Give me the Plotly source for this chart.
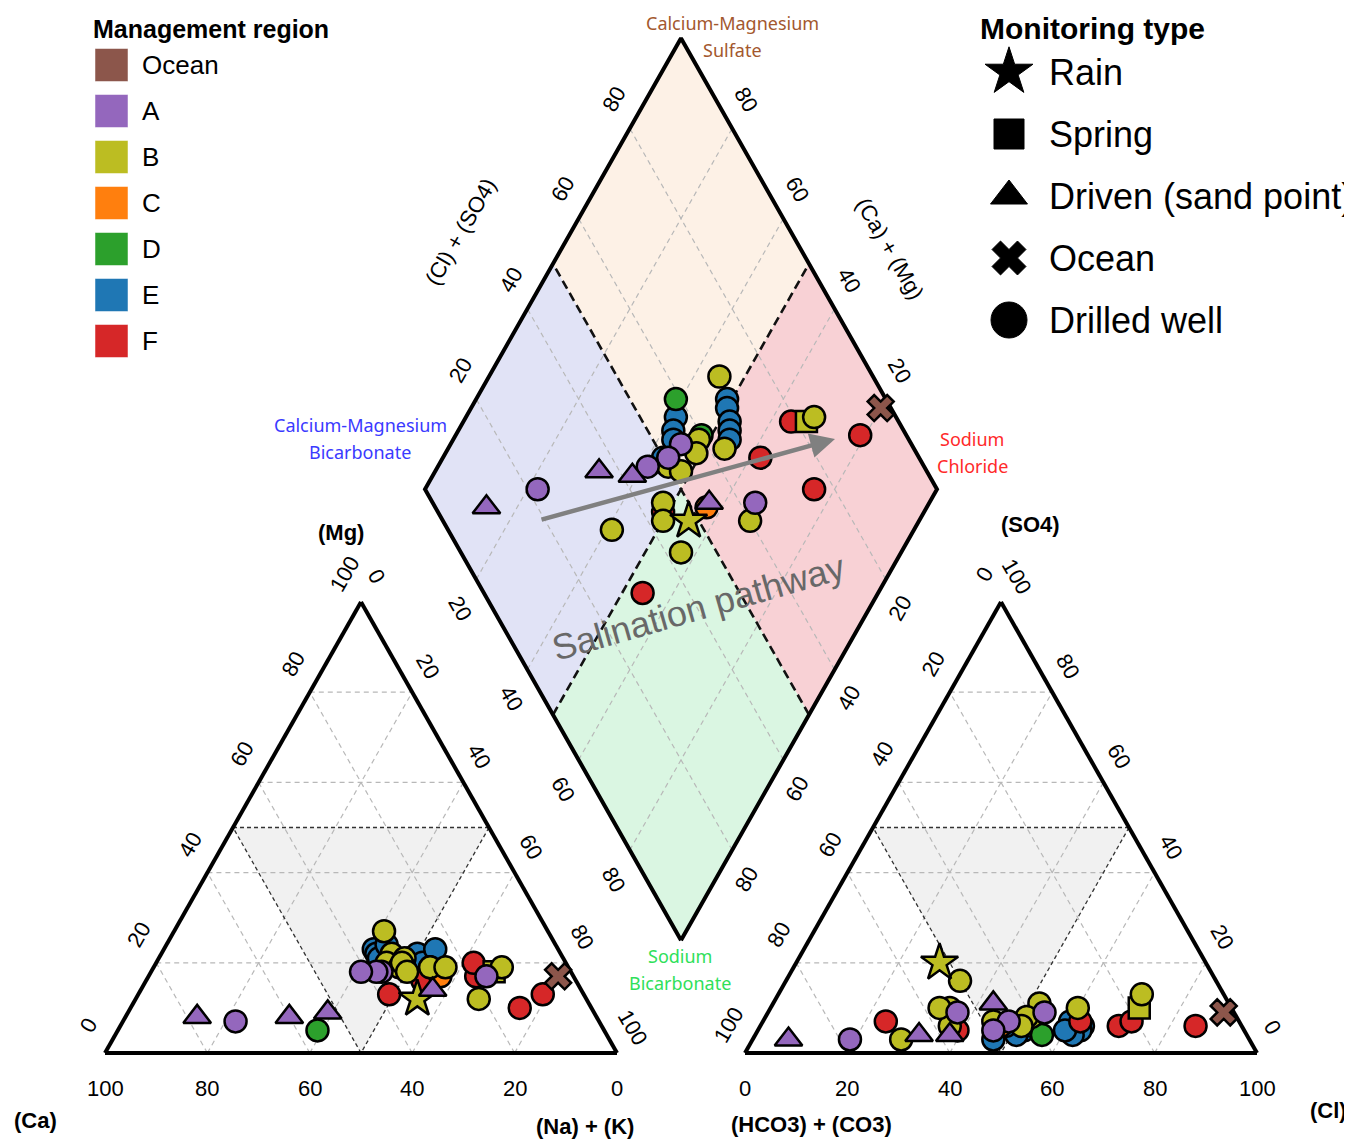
import plotly.graph_objects as go

# ---------------- data (percent of meq) ----------------
region = ["Ocean", "F", "F", "F", "B", "B", "F", "A", "B", "B",
          "E", "E", "E", "E", "E", "B", "D", "E", "E", "E",
          "E", "D", "B", "B", "A", "A", "A", "B", "B", "A",
          "A", "A", "A", "B", "F", "B", "B", "C", "A", "B",
          "B", "F"]
mtype = ["Ocean", "Drilled well", "Drilled well", "Drilled well", "Spring", "Drilled well", "Drilled well", "Drilled well", "Drilled well", "Drilled well",
         "Drilled well", "Drilled well", "Drilled well", "Drilled well", "Drilled well", "Drilled well", "Drilled well", "Drilled well", "Drilled well", "Drilled well",
         "Drilled well", "Drilled well", "Drilled well", "Drilled well", "Drilled well", "Drilled well", "Drilled well", "Drilled well", "Drilled well", "Driven (sand point)",
         "Driven (sand point)", "Driven (sand point)", "Drilled well", "Drilled well", "Drilled well", "Drilled well", "Rain", "Drilled well", "Driven (sand point)", "Drilled well",
         "Drilled well", "Drilled well"]
# cations
ca = [3, 8, 14, 19, 15, 13, 18, 17, 21, 33,
      30, 28, 28, 24, 27, 27, 56, 36, 36, 36,
      33, 32, 31, 32, 37, 38, 41, 35, 33, 60,
      52, 78, 71, 32, 38, 32, 33, 26, 29, 32,
      24, 30]
mg = [17, 13, 10, 17, 18, 19, 20, 17, 12, 22,
      21, 22, 20, 23, 19, 19, 5, 23, 22, 21,
      24, 20, 21, 19, 18, 18, 18, 20, 19, 8,
      9, 8, 7, 20, 13, 18, 12, 17, 14, 27,
      19, 16]
na_k = [80, 79, 76, 64, 67, 68, 62, 66, 67, 45,
        49, 50, 52, 53, 54, 54, 39, 41, 42, 43,
        43, 48, 48, 49, 45, 44, 41, 45, 48, 32,
        39, 14, 22, 48, 49, 50, 55, 57, 57, 41,
        57, 54]
# anions
hco3 = [2, 9, 24, 21, 18, 16, 31, 37, 40, 30,
        31, 32, 33, 34, 35, 37, 41, 43, 45, 46,
        50, 40, 41, 43, 45, 49, 54, 50, 48, 64,
        58, 90, 78, 55, 56, 57, 52, 47, 46, 68,
        57, 69]
so4 = [9, 6, 6, 7, 10, 13, 7, 9, 8, 10,
       6, 5, 7, 4, 5, 11, 6, 5, 4, 6,
       3, 4, 8, 6, 7, 5, 9, 16, 7, 4,
       4, 3, 3, 10, 5, 6, 20, 6, 11, 3,
       10, 7]
cl = [89, 85, 70, 72, 72, 71, 62, 54, 52, 60,
      63, 63, 60, 62, 60, 52, 53, 52, 51, 48,
      47, 56, 51, 51, 48, 46, 37, 34, 45, 32,
      38, 7, 19, 35, 39, 37, 28, 47, 43, 29,
      33, 24]

region_names = ["Ocean", "A", "B", "C", "D", "E", "F"]
region_colors = ["#8c564b", "#9467bd", "#bcbd22", "#ff7f0e", "#2ca02c", "#1f77b4", "#d62728"]
type_names = ["Rain", "Spring", "Driven (sand point)", "Ocean", "Drilled well"]
type_symbols = ["star", "square", "triangle-up", "x", "circle"]
type_sizes = [28, 21, 24, 23, 22]
tick_vals = [0, 20, 40, 60, 80, 100]

# ---------------- geometry ----------------
PAGE_OFF = 8          # html body margin
W, HGT = 1352 - PAGE_OFF, 1143 - PAGE_OFF
PXU = 512.0
OX, OY = 105.0, 1053.0
H = 451.0 / 512.0


def from_px(px, py):
    return (px - OX) / PXU, (OY - py) / PXU


def to_px(x, y):
    return OX + PXU * x, OY - PXU * y


def cat_xy(nak, mgv):
    return nak / 100 + mgv / 200, mgv / 100 * H


def an_xy(clv, so4v):
    return 1.25 + clv / 100 + so4v / 200, so4v / 100 * H


def dia_xy(p, q):
    return 1.125 + 0.5 * (p - q), 0.25 * H + H * (p + q)


fig = go.Figure()


def poly(points, fill):
    xs = [p[0] for p in points] + [points[0][0]]
    ys = [p[1] for p in points] + [points[0][1]]
    fig.add_trace(go.Scatter(x=xs, y=ys, mode="lines", fill="toself", fillcolor=fill,
                             line=dict(color=fill, width=0),
                             hoverinfo="skip", showlegend=False))


def segs(segments, color, width, dash=None):
    xs, ys = [], []
    for a, b in segments:
        xs += [a[0], b[0], None]
        ys += [a[1], b[1], None]
    fig.add_trace(go.Scatter(x=xs, y=ys, mode="lines",
                             line=dict(color=color, width=width, dash=dash),
                             hoverinfo="skip", showlegend=False))


# diamond quadrant fills
poly([dia_xy(0, .5), dia_xy(0, 1), dia_xy(.5, 1), dia_xy(.5, .5)], "#e1e3f6")
poly([dia_xy(.5, .5), dia_xy(.5, 1), dia_xy(1, 1), dia_xy(1, .5)], "#fdf1e6")
poly([dia_xy(.5, 0), dia_xy(.5, .5), dia_xy(1, .5), dia_xy(1, 0)], "#f8d1d5")
poly([dia_xy(0, 0), dia_xy(0, .5), dia_xy(.5, .5), dia_xy(.5, 0)], "#daf6e2")

# inner shaded triangles
poly([cat_xy(0, 50), cat_xy(50, 50), cat_xy(50, 0)], "#f1f1f1")
poly([an_xy(0, 50), an_xy(50, 50), an_xy(50, 0)], "#f1f1f1")

# grid lines
grid = []
for v in [20, 40, 60, 80]:
    grid.append((cat_xy(0, v), cat_xy(100 - v, v)))
    grid.append((cat_xy(v, 0), cat_xy(v, 100 - v)))
    grid.append((cat_xy(100 - v, 0), cat_xy(0, 100 - v)))
    grid.append((an_xy(0, v), an_xy(100 - v, v)))
    grid.append((an_xy(v, 0), an_xy(v, 100 - v)))
    grid.append((an_xy(100 - v, 0), an_xy(0, 100 - v)))
    grid.append((dia_xy(v / 100, 0), dia_xy(v / 100, 1)))
    grid.append((dia_xy(0, v / 100), dia_xy(1, v / 100)))
segs(grid, "#b8b8b8", 1.2, "5px,4px")

# inner triangle dashed borders
inner = [(cat_xy(0, 50), cat_xy(50, 50)), (cat_xy(50, 50), cat_xy(50, 0)), (cat_xy(50, 0), cat_xy(0, 50)),
         (an_xy(0, 50), an_xy(50, 50)), (an_xy(50, 50), an_xy(50, 0)), (an_xy(50, 0), an_xy(0, 50))]
segs(inner, "#333333", 1.3, "4px,3px")

# diamond dividers
segs([(dia_xy(.5, 0), dia_xy(.5, 1)), (dia_xy(0, .5), dia_xy(1, .5))], "#111111", 2.6, "9px,5px")

# outlines
outl = [(cat_xy(0, 0), cat_xy(100, 0)), (cat_xy(100, 0), cat_xy(0, 100)), (cat_xy(0, 100), cat_xy(0, 0)),
        (an_xy(0, 0), an_xy(100, 0)), (an_xy(100, 0), an_xy(0, 100)), (an_xy(0, 100), an_xy(0, 0))]
segs(outl, "black", 4)
dv = [dia_xy(0, 0), dia_xy(1, 0), dia_xy(1, 1), dia_xy(0, 1), dia_xy(0, 0)]
fig.add_trace(go.Scatter(x=[p[0] for p in dv], y=[p[1] for p in dv],
                         mode="lines", line=dict(color="black", width=4), hoverinfo="skip", showlegend=False))

# ---------------- data points ----------------
draw_order = ["E", "D", "F", "C", "B", "A", "Ocean"]
idx = sorted(range(len(region)), key=lambda i: draw_order.index(region[i]))
cols = [region_colors[region_names.index(region[i])] for i in idx]
syms = [type_symbols[type_names.index(mtype[i])] for i in idx]
sizes = [type_sizes[type_names.index(mtype[i])] for i in idx]
mk = dict(color=cols, symbol=syms, size=sizes, opacity=1, line=dict(color="black", width=2.5))

cx, cy, ax_, ay_, dx, dy = [], [], [], [], [], []
for i in idx:
    tot_c = ca[i] + mg[i] + na_k[i]
    tot_a = hco3[i] + so4[i] + cl[i]
    n = 100 * na_k[i] / tot_c
    m = 100 * mg[i] / tot_c
    c = 100 * cl[i] / tot_a
    s = 100 * so4[i] / tot_a
    x, y = cat_xy(n, m); cx.append(x); cy.append(y)
    x, y = an_xy(c, s); ax_.append(x); ay_.append(y)
    x, y = dia_xy((c + s) / 100, 1 - n / 100); dx.append(x); dy.append(y)

for xs, ys in [(cx, cy), (ax_, ay_), (dx, dy)]:
    fig.add_trace(go.Scatter(x=xs, y=ys, mode="markers", marker=mk, showlegend=False,
                             hoverinfo="skip"))

# ---------------- annotations ----------------
ann = []
FONT = "Liberation Sans, Arial, sans-serif"
NARROW = "Liberation Sans Narrow, Arial Narrow, Liberation Sans, sans-serif"


def text_px(px, py, txt, size=22, color="black", angle=0, family=FONT, xanchor="center", bold=False):
    x, y = from_px(px, py)
    t = "<b>%s</b>" % txt if bold else txt
    ann.append(dict(x=x, y=y, xref="x", yref="y", text=t, showarrow=False, textangle=angle,
                    xanchor=xanchor, yanchor="middle", font=dict(size=size, color=color, family=family)))


def text_at(pt, off, txt, angle, size=22):
    px, py = to_px(*pt)
    text_px(px + off[0], py + off[1], txt, size=size, angle=angle)


for v in tick_vals:
    px, _ = to_px(*cat_xy(100 - v, 0))
    text_px(px, 1088, str(v), size=22, family=NARROW)
    text_at(cat_xy(0, v), (-17, -28), str(v), -60)
    text_at(cat_xy(v, 100 - v), (16, -26), str(v), 60)
    px, _ = to_px(*an_xy(v, 0))
    text_px(px, 1088, str(v), size=22, family=NARROW)
    text_at(an_xy(0, 100 - v), (-17, -28), str(v), -60)
    text_at(an_xy(100 - v, v), (16, -26), str(v), 60)
    if 0 < v < 100:
        text_at(dia_xy(v / 100, 1), (-16, -29), str(v), -60)
        text_at(dia_xy(1, v / 100), (14, -29), str(v), 60)
        text_at(dia_xy(0, 1 - v / 100), (-16, 29), str(v), 60)
        text_at(dia_xy(1 - v / 100, 0), (14, 29), str(v), -60)

text_px(341, 532, "(Mg)", 22, bold=True, family=NARROW)
text_px(35, 1120, "(Ca)", 22, bold=True, family=NARROW)
text_px(585, 1126, "(Na) + (K)", 22, bold=True, family=NARROW)
text_px(1030, 524, "(SO4)", 22, bold=True, family=NARROW)
text_px(811, 1124, "(HCO3) + (CO3)", 22, bold=True, family=NARROW)
text_px(1328, 1110, "(Cl)", 22, bold=True, family=NARROW)
text_px(460, 232, "(Cl) + (SO4)", 22, angle=-60)
text_px(890, 248, "(Ca) + (Mg)", 22, angle=60)

LAB = "Noto Sans, Open Sans, sans-serif"
for (xc, y1, l1, l2, colr) in [(732, 23, "Calcium-Magnesium", "Sulfate", "#a3582e"),
                               (360, 425, "Calcium-Magnesium", "Bicarbonate", "#3a3aff"),
                               (972, 439, "Sodium", "Chloride", "#ff2a2a"),
                               (680, 956, "Sodium", "Bicarbonate", "#2fe05a")]:
    text_px(xc, y1, l1, 18, color=colr, family=LAB)
    text_px(xc, y1 + 27, l2, 18, color=colr, family=LAB)

text_px(698, 607, "Salination pathway", 36, color="#686868", angle=-16)

# arrow
hx, hy = from_px(835, 439)
tx, ty = from_px(540, 520)
ann.append(dict(x=hx, y=hy, ax=tx, ay=ty, xref="x", yref="y", axref="x", ayref="y", text="",
                showarrow=True, arrowhead=2, arrowsize=1.1, arrowwidth=4.5, arrowcolor="#808080", standoff=0))

# legends
text_px(91, 29, "Management region", 25, bold=True, xanchor="left")
lx, ly = [], []
for i, name in enumerate(region_names):
    py = 65 + 46 * i
    x, y = from_px(111.5, py)
    lx.append(x); ly.append(y)
    text_px(140, py, name, 26, xanchor="left")
fig.add_trace(go.Scatter(x=lx, y=ly, mode="markers", showlegend=False, hoverinfo="skip",
                         marker=dict(symbol="square", size=33, color=region_colors, opacity=1,
                                     line=dict(color="white", width=0.5))))

text_px(978, 28, "Monitoring type", 30, bold=True, xanchor="left")
tx_, ty_ = [], []
for i, name in enumerate(type_names):
    py = 72 + 62 * i
    x, y = from_px(1009, py)
    tx_.append(x); ty_.append(y)
    text_px(1047, py, name, 36, xanchor="left")
fig.add_trace(go.Scatter(x=tx_, y=ty_, mode="markers", showlegend=False, hoverinfo="skip",
                         marker=dict(symbol=type_symbols, size=[36, 30, 32, 30, 36], color="black",
                                     opacity=1, line=dict(color="black", width=1))))

x_lo, y_hi = from_px(PAGE_OFF, PAGE_OFF)
x_hi, y_lo = from_px(PAGE_OFF + W, PAGE_OFF + HGT)
fig.update_layout(
    width=W, height=HGT, margin=dict(l=0, r=0, t=0, b=0),
    paper_bgcolor="white", plot_bgcolor="white",
    xaxis=dict(range=[x_lo, x_hi], visible=False, fixedrange=True),
    yaxis=dict(range=[y_lo, y_hi], visible=False, fixedrange=True),
    annotations=ann, showlegend=False,
)
fig.write_html("out.html")
